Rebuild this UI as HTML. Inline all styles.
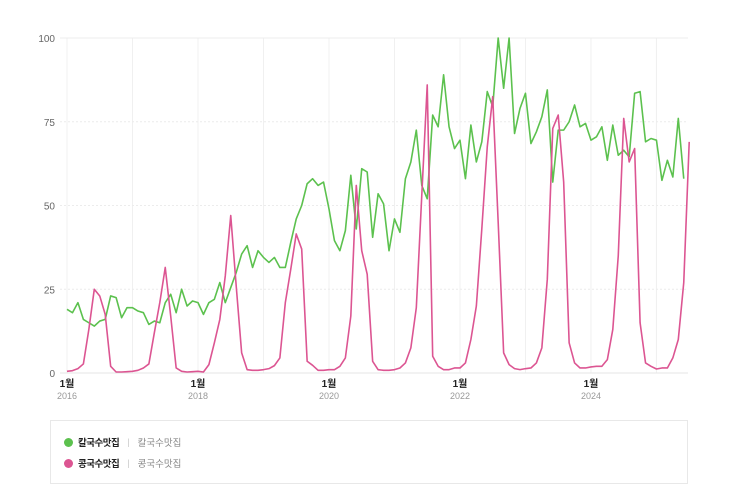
<!DOCTYPE html>
<html><head><meta charset="utf-8"><style>
body{margin:0;background:#fff;width:743px;height:493px;overflow:hidden;font-family:"Liberation Sans","Noto Sans CJK KR",sans-serif;}
svg{position:absolute;left:0;top:0}
#legend{position:absolute;left:50px;top:420px;width:638px;height:64px;border:1px solid #e8e8e8;box-sizing:border-box}
.le{position:absolute;left:13px;font-size:9.5px;color:#222;display:flex;align-items:center}
.dot{width:9px;height:9px;border-radius:50%;margin-right:5px}
.sep{color:#ccc;margin:0 8px}
.sub{color:#888}
</style></head><body>
<svg id="chart" width="743" height="420"></svg>
<div id="legend">
<div class="le" style="top:14px"><span class="dot" style="background:#5cc14e"></span><b style="letter-spacing:-0.5px">칼국수맛집</b><span class="sep">|</span><span class="sub">칼국수맛집</span></div>
<div class="le" style="top:35px"><span class="dot" style="background:#dc5592"></span><b style="letter-spacing:-0.5px">콩국수맛집</b><span class="sep">|</span><span class="sub">콩국수맛집</span></div>
</div>
<script>
const yTicks=[0,25,50,75,100];
const xYears=["2016","2018","2020","2022","2024"];
const green=[19,18,21,16,15,14,15.5,16,23,22.5,16.5,19.5,
19.5,18.5,18,14.5,15.5,15,21,23.5,18,25,20,21.5,
21,17.5,21,22,27,21,25.5,30,35.5,38,31.5,36.5,
34.5,33,34.5,31.5,31.5,39,46,50,56.5,58,56,57,
49,39.5,36.5,42.5,59,43,61,60,40.5,53.5,50.5,36.5,
46,42,58,63,72.5,56,52,77,73.5,89,73.5,67,
69.5,58,74,63,69,84,79.5,100,85,100,71.5,79,
83.5,68.5,72,76.5,84.5,57,72.5,72.5,75,80,73.5,74.5,
69.5,70.5,73.5,63.5,74,65,66.5,64.5,83.5,84,69,70,
69.5,57.5,63.5,58.5,76,58];
const pink=[0.5,0.7,1.3,2.7,13,25,23,17.5,2,0.3,0.3,0.4,
0.5,0.8,1.5,2.7,12,21,31.5,17,1.5,0.5,0.3,0.4,
0.5,0.3,2.5,9,16,29,47,26,6,1,0.8,0.8,
1,1.3,2.2,4.5,21,31,41.5,37,3.5,2.3,0.8,0.8,
1,1,2,4.5,17,56,36.5,29.5,3.5,1,0.8,0.8,
1,1.5,3,7.5,19.5,53,86,5,2,1,1,1.5,
1.5,3,10,20,43,67.5,82.5,45,6,2.5,1.3,1,
1.3,1.5,3,7.5,28,73,77,57,9,3,1.5,1.5,
1.8,2,2,4,13,35,76,63,67,15,3,2,
1.2,1.5,1.5,4.5,10,27,69];
const svg=document.getElementById('chart');const NS='http://www.w3.org/2000/svg';
const x0=67,dx=5.458,yb=373,yt=38;
const X=i=>x0+i*dx, Y=v=>yb-(v/100)*(yb-yt);
function mk(t,a){const e=document.createElementNS(NS,t);for(const k in a)e.setAttribute(k,a[k]);svg.appendChild(e);return e;}
for(let y=0;y<10;y++){const l=mk('line',{x1:X(y*12),x2:X(y*12),y1:yt,y2:yb,stroke:'#f0f0f0'});

}
yTicks.forEach(v=>{const l=mk('line',{x1:60,x2:688,y1:Y(v),y2:Y(v),stroke:v==0?'#e6e6e6':'#ececec','stroke-dasharray':v==0||v==100?'':'2,2'});


const t=mk('text',{x:55,y:Y(v)+4,'text-anchor':'end','font-size':'10',fill:'#666'});t.textContent=v;

});
xYears.forEach((yr,k)=>{const xx=X(k*24);
const a=mk('text',{x:xx,y:387,'text-anchor':'middle','font-size':'10',fill:'#222','font-weight':'bold'});a.textContent='1월';


const b=mk('text',{x:xx,y:399,'text-anchor':'middle','font-size':'9',fill:'#999'});b.textContent=yr;

});
function line(d,c,n){const p=mk('polyline',{points:d.map((v,i)=>X(i)+','+Y(v)).join(' '),fill:'none',stroke:c,'stroke-width':1.6,'stroke-linejoin':'round'});

}
line(green,'#5cc14e','line-kalguksu');
line(pink,'#dc5592','line-kongguksu');
</script>
</body></html>
